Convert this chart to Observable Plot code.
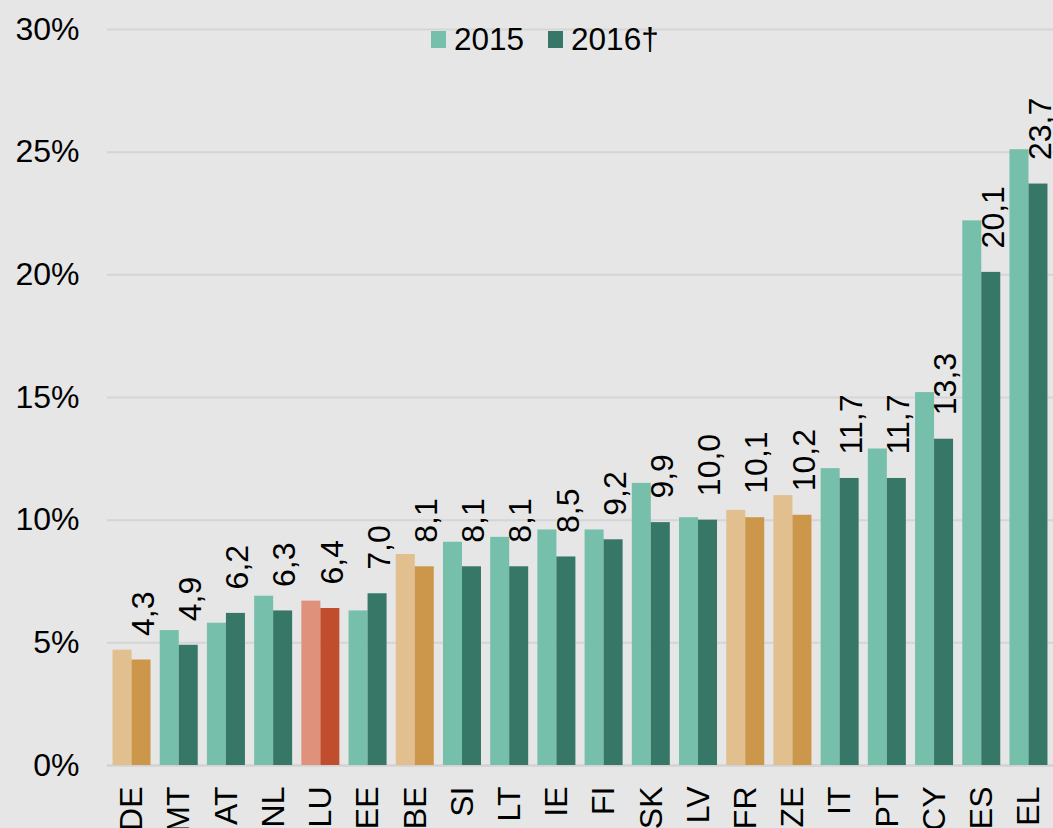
<!DOCTYPE html>
<html>
<head>
<meta charset="utf-8">
<script src="https://cdn.jsdelivr.net/npm/d3@7"></script>
<script src="https://cdn.jsdelivr.net/npm/@observablehq/plot@0.6"></script>
<style>
  html, body { margin: 0; padding: 0; background: #e6e6e6; }
  #wrap { position: relative; width: 1053px; height: 828px; overflow: hidden; font-family: "Liberation Sans", Arial, sans-serif; }
  #legend { position: absolute; top: 21px; left: 431px; display: flex; align-items: center; font-size: 31.5px; color: #000; }
  #legend .sw { width: 15px; height: 17px; display: inline-block; margin-right: 8px; }
  #legend .item { display: flex; align-items: center; margin-right: 24px; }
</style>
</head>
<body>
<div id="wrap">
  <div id="chart"></div>
  <div id="legend"></div>
</div>
<script>
const countries = ["DE","MT","AT","NL","LU","EE","BE","SI","LT","IE","FI","SK","LV","FR","ZE","IT","PT","CY","ES","EL"];
const values2015 = [4.7,5.5,5.8,6.9,6.7,6.3,8.6,9.1,9.3,9.6,9.6,11.5,10.1,10.4,11.0,12.1,12.9,15.2,22.2,25.1];
const values2016 = [4.3,4.9,6.2,6.3,6.4,7.0,8.1,8.1,8.1,8.5,9.2,9.9,10.0,10.1,10.2,11.7,11.7,13.3,20.1,23.7];
// colour group per country: "teal" default, "tan" highlighted, "red" for LU
const groups = ["tan","teal","teal","teal","red","teal","tan","teal","teal","teal","teal","teal","teal","tan","tan","teal","teal","teal","teal","teal"];
const yTicks = [0,5,10,15,20,25,30];
const years = ["2015","2016†"];

const palette = {
  teal: ["#76bfab", "#377767"],
  tan:  ["#e1bf8f", "#cc974b"],
  red:  ["#e0917b", "#c04e2e"]
};

const rows = countries.map((c, i) => ({country: c, v2015: values2015[i], v2016: values2016[i], group: groups[i]}));

const fontFamily = "'Liberation Sans', Arial, sans-serif";
const half = 19;

const chart = Plot.plot({
  width: 1053,
  height: 828,
  marginLeft: 107,
  marginRight: 0,
  marginTop: 29,
  marginBottom: 63,
  style: {background: "transparent", fontFamily, fontSize: "32px", color: "#000"},
  x: {domain: countries, paddingInner: 0.195, paddingOuter: 0.117, round: false, label: null},
  y: {domain: [0, 30], label: null},
  color: {type: "identity"},
  marks: [
    Plot.ruleY(yTicks.filter(t => t > 0), {stroke: "#d5d5d5", strokeWidth: 2}),
    Plot.ruleY([0], {stroke: "#d2d2d2", strokeWidth: 2.5}),
    Plot.barY(rows, {x: "country", y: "v2015", fill: d => palette[d.group][0], insetRight: half, insetLeft: 0}),
    Plot.barY(rows, {x: "country", y: "v2016", fill: d => palette[d.group][1], insetLeft: half, insetRight: 0}),
    Plot.text(rows, {
      x: "country", y: "v2016",
      text: d => d.v2016.toFixed(1).replace(".", ","),
      rotate: -90, textAnchor: "start", lineAnchor: "middle",
      dx: 11.5, dy: -24, fontSize: 32, fill: "#000"
    }),
    Plot.axisY(yTicks, {tickSize: 0, tickPadding: 28, tickFormat: d => d + "%", fontSize: 32, anchor: "left"}),
    Plot.axisX({tickSize: 0, tickPadding: 21, tickRotate: -90, fontSize: 32, anchor: "bottom"})
  ]
});
document.getElementById("chart").appendChild(chart);

const legend = document.getElementById("legend");
years.forEach((y, i) => {
  const item = document.createElement("div");
  item.className = "item";
  const sw = document.createElement("span");
  sw.className = "sw";
  sw.style.background = palette.teal[i];
  const t = document.createElement("span");
  t.textContent = y;
  item.appendChild(sw);
  item.appendChild(t);
  legend.appendChild(item);
});
</script>
</body>
</html>
